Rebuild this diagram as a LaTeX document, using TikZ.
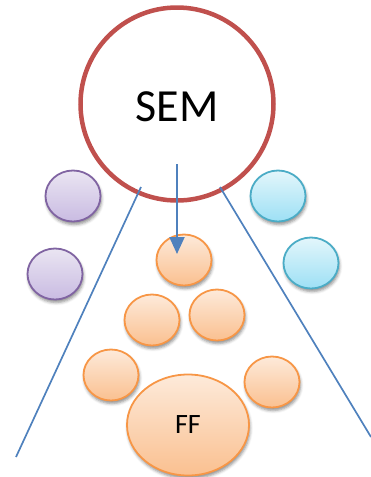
\documentclass[tikz,border=0pt]{standalone}
\usepackage{fontspec}
\setmainfont{Carlito}
\usetikzlibrary{shapes.geometric,arrows.meta,shadows.blur}
\definecolor{semred}{HTML}{C0504D}
\definecolor{lineblue}{HTML}{4F81BD}
\definecolor{orbrd}{HTML}{F79646}
\definecolor{ortop}{HTML}{FDEADA}
\definecolor{orbot}{HTML}{FAC090}
\definecolor{pubrd}{HTML}{8064A2}
\definecolor{putop}{HTML}{EAE5F2}
\definecolor{pubot}{HTML}{C9BBE2}
\definecolor{cybrd}{HTML}{4BACC6}
\definecolor{cytop}{HTML}{E3F6FB}
\definecolor{cybot}{HTML}{9DE0F5}
\tikzset{
  bubble/.style={ellipse, inner sep=0pt, line width=1.8pt, minimum width=55pt, minimum height=51pt,
    blur shadow={shadow xshift=1pt, shadow yshift=-3pt, shadow blur radius=3pt, shadow opacity=45}},
  orangeb/.style={bubble, draw=orbrd, top color=ortop, bottom color=orbot},
  purpleb/.style={bubble, draw=pubrd, top color=putop, bottom color=pubot},
  cyanb/.style={bubble, draw=cybrd, top color=cytop, bottom color=cybot},
  semc/.style={circle, draw=semred, line width=4.5pt, fill=white, minimum size=193pt, inner sep=0pt},
  guide/.style={draw=lineblue, line width=1.7pt},
  arrowl/.style={draw=lineblue, line width=2pt, -{Triangle[width=15pt,length=17pt]}}
}
\begin{document}
\begin{tikzpicture}[x=1pt,y=-1pt]
\useasboundingbox (0,0) rectangle (370,477);
\node[semc] (sem) at (177,104) {};
\node (semlabel) at (177,107) {\fontsize{46}{50}\selectfont SEM};
\node[purpleb] (p1) at (73,196) {};
\node[purpleb] (p2) at (55,274) {};
\node[cyanb] (c1) at (278,196) {};
\node[cyanb] (c2) at (311,263) {};
\node[orangeb] (o1) at (184,260) {};
\node[orangeb] (o2) at (152,320) {};
\node[orangeb] (o3) at (217,315) {};
\node[orangeb] (o4) at (111,375) {};
\node[orangeb] (o5) at (272,382) {};
\node[orangeb, minimum width=122pt, minimum height=101pt, font=\fontsize{28}{32}\selectfont] (ff) at (188,425) {FF};
\coordinate (l1) at (141,187);
\coordinate (l2) at (16,457);
\coordinate (r1) at (220,187);
\coordinate (r2) at (371,437);
\coordinate (a1) at (177,164);
\coordinate (a2) at (177,254);
\draw[guide] (l1) -- (l2);
\draw[guide] (r1) -- (r2);
\draw[arrowl] (a1) -- (a2);
\end{tikzpicture}
\end{document}
